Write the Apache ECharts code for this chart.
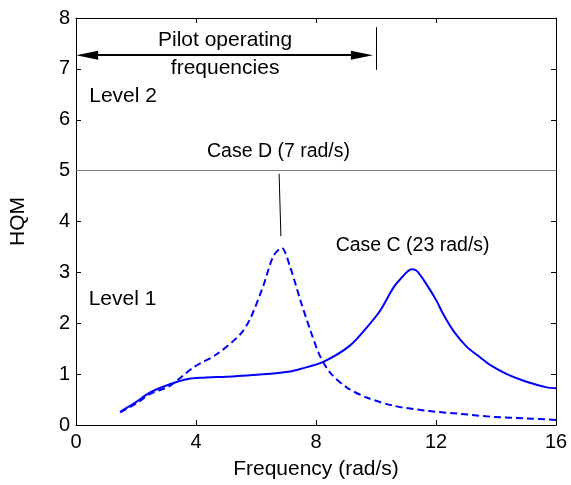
<!DOCTYPE html>
<html>
<head>
<meta charset="utf-8">
<script src="https://cdn.jsdelivr.net/npm/echarts@6/dist/echarts.min.js"></script>
<style>html,body{margin:0;padding:0;background:#fff;}#c{width:571px;height:485px;}</style>
</head>
<body>
<div id="c"></div>
<script>
const xTicks = [0, 4, 8, 12, 16];
const yTicks = [0, 1, 2, 3, 4, 5, 6, 7, 8];
const freqC = [1.47, 2.0, 2.47, 3.13, 3.69, 4.24, 5.02, 5.8, 6.58, 7.13, 7.47, 8.24, 9.13, 9.74, 10.13, 10.58, 10.8, 11.19, 11.36, 11.69, 12.02, 12.24, 12.58, 13.02, 13.47, 13.8, 14.36, 15.02, 15.69, 16.0];
const hqmC  = [0.26, 0.45, 0.64, 0.80, 0.90, 0.93, 0.95, 0.98, 1.01, 1.05, 1.10, 1.24, 1.56, 1.95, 2.24, 2.70, 2.86, 3.06, 3.03, 2.76, 2.44, 2.18, 1.85, 1.54, 1.33, 1.18, 1.00, 0.85, 0.74, 0.72];
const freqD = [1.47, 2.0, 2.47, 3.13, 3.91, 4.69, 5.47, 5.8, 6.24, 6.58, 6.86, 7.13, 7.47, 7.8, 8.13, 8.47, 9.02, 9.69, 10.58, 11.69, 12.8, 13.91, 15.02, 16.0];
const hqmD  = [0.25, 0.42, 0.61, 0.77, 1.13, 1.39, 1.78, 2.08, 2.73, 3.32, 3.48, 3.12, 2.47, 1.88, 1.36, 1.03, 0.74, 0.54, 0.38, 0.28, 0.22, 0.16, 0.13, 0.10];
const level2Boundary = 5;
const pilotRange = [0, 10];
const pilotArrowY = 7.27;

const font = 'Liberation Sans, Arial, sans-serif';
const chart = echarts.init(document.getElementById('c'));
const pairs = (xs, ys) => xs.map((x, i) => [x, ys[i]]);
const txt = (x, y, text, size) => ({
  coord: [x, y], name: text, symbol: 'circle', symbolSize: 1,
  itemStyle: { color: 'rgba(0,0,0,0)' },
  label: { show: true, formatter: text, color: '#000', fontSize: size, fontFamily: font, position: 'inside', align: 'center', verticalAlign: 'middle' }
});

const axisCommon = {
  axisLine: { show: true, onZero: false, lineStyle: { color: '#000', width: 1 } },
  axisTick: { show: true, inside: true, length: 5, lineStyle: { color: '#000' } },
  splitLine: { show: false }
};

const arrowHalf = 0.37; // half the arrowhead length, in x units

chart.setOption({
  animation: false,
  grid: { left: 76, right: 15, top: 18, bottom: 59 },
  xAxis: [
    Object.assign({ type: 'value', min: 0, max: 16, interval: 4, position: 'bottom',
      name: 'Frequency (rad/s)', nameLocation: 'middle', nameGap: 34,
      nameTextStyle: { color: '#000', fontSize: 21, fontFamily: font },
      axisLabel: { color: '#000', fontSize: 20, fontFamily: font, margin: 7 } }, axisCommon),
    Object.assign({ type: 'value', min: 0, max: 16, interval: 4, position: 'top',
      axisLabel: { show: false } }, axisCommon)
  ],
  yAxis: [
    Object.assign({ type: 'value', min: 0, max: 8, interval: 1, position: 'left',
      name: 'HQM', nameLocation: 'middle', nameGap: 47,
      nameTextStyle: { color: '#000', fontSize: 21, fontFamily: font },
      axisLabel: { color: '#000', fontSize: 20, fontFamily: font, margin: 6 } }, axisCommon),
    Object.assign({ type: 'value', min: 0, max: 8, interval: 1, position: 'right',
      axisLabel: { show: false } }, axisCommon)
  ],
  series: [
    {
      name: 'Case C', type: 'line', data: pairs(freqC, hqmC), smooth: 0.3,
      showSymbol: false, lineStyle: { color: '#0000ff', width: 2 },
      markLine: {
        silent: true, animation: false, symbol: 'none', label: { show: false },
        symbolSize: [9, 22],
        data: [
          [{ coord: [0, level2Boundary], lineStyle: { color: '#808080', width: 1, type: 'solid' } }, { coord: [16, level2Boundary] }],
          [{ coord: [pilotRange[0] + arrowHalf, pilotArrowY], symbol: 'triangle', lineStyle: { color: '#000', width: 2, type: 'solid' } },
           { coord: [pilotRange[1] - 0.1 - arrowHalf, pilotArrowY], symbol: 'triangle' }],
          [{ coord: [pilotRange[1], 6.98], lineStyle: { color: '#000', width: 1, type: 'solid' } }, { coord: [pilotRange[1], 7.82] }],
          [{ coord: [6.77, 4.94], lineStyle: { color: '#000', width: 1, type: 'solid' } }, { coord: [6.83, 3.71] }]
        ]
      },
      markPoint: {
        silent: true, animation: false,
        data: [
          txt(4.97, 7.57, 'Pilot operating', 21),
          txt(4.97, 7.02, 'frequencies', 21),
          txt(1.57, 6.47, 'Level 2', 21),
          txt(1.55, 2.47, 'Level 1', 21),
          txt(6.75, 5.38, 'Case D (7 rad/s)', 19.5),
          txt(11.22, 3.52, 'Case C (23 rad/s)', 19.5)
        ]
      }
    },
    {
      name: 'Case D', type: 'line', data: pairs(freqD, hqmD), smooth: 0.3,
      showSymbol: false, lineStyle: { color: '#0000ff', width: 2, type: [7, 4] }
    }
  ]
});
</script>
</body>
</html>
